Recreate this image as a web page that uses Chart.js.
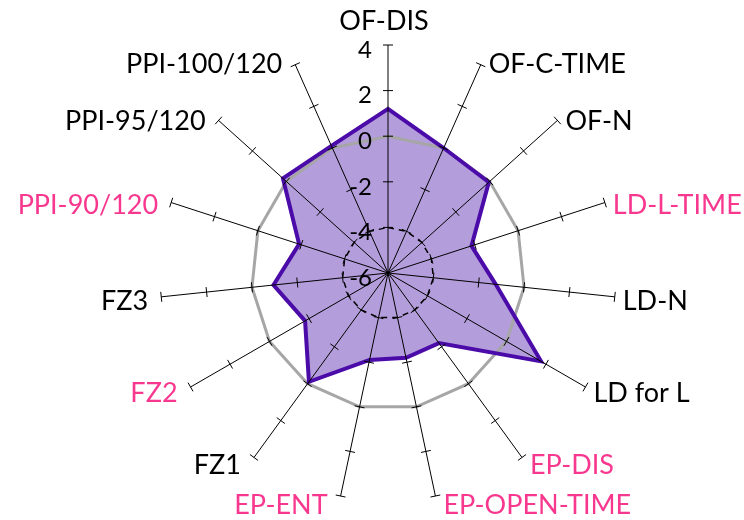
<!DOCTYPE html>
<html>
<head>
<meta charset="utf-8">
<script src="https://cdn.jsdelivr.net/npm/chart.js@4.4.0/dist/chart.umd.min.js"></script>
<style>
  html, body { margin: 0; padding: 0; background: #fff; }
  #wrap { width: 744px; height: 520px; }
</style>
</head>
<body>
<div id="wrap"><canvas id="radar" width="744" height="520"></canvas></div>
<script>
// categories, clockwise from the top
const categories = ["OF-DIS", "OF-C-TIME", "OF-N", "LD-L-TIME", "LD-N", "LD for L", "EP-DIS",
  "EP-OPEN-TIME", "EP-ENT", "FZ1", "FZ2", "FZ3", "PPI-90/120", "PPI-95/120", "PPI-100/120"];
// categories whose label is shown in pink
const highlighted = ["LD-L-TIME", "EP-DIS", "EP-OPEN-TIME", "EP-ENT", "FZ2", "PPI-90/120"];

const scores = [1.2, 0.0, -0.05, -2.15, -1.25, 1.75, -2.2, -2.2, -2.1, -0.1, -1.8, -0.95, -1.9, 0.2, 0.1];
const zeroRing = [0, 0, 0, 0, 0, 0, 0, 0, 0, 0, 0, 0, 0, 0, 0];
const lowRing = [-4, -4, -4, -4, -4, -4, -4, -4, -4, -4, -4, -4, -4, -4, -4];

const tickValues = [4, 2, 0, -2, -4, -6];

const PINK = "#F8388F";
const LABEL_FONT = "27px Lato";
const TICK_FONT = "24px Lato";

// tick marks, value labels and category labels
const radarDecor = {
  id: "radarDecor",
  afterDraw(chart) {
    const r = chart.scales.r;
    const ctx = chart.ctx;
    ctx.save();

    ctx.strokeStyle = "#000";
    ctx.lineWidth = 1;
    categories.forEach((c, i) => {
      tickValues.forEach(v => {
        if (v === r.min) return;
        const p = r.getPointPosition(i, r.getDistanceFromCenterForValue(v));
        const nx = -Math.sin(p.angle), ny = Math.cos(p.angle);
        ctx.beginPath();
        ctx.moveTo(p.x + nx * 5, p.y + ny * 5);
        ctx.lineTo(p.x - nx * 5, p.y - ny * 5);
        ctx.stroke();
      });
    });

    ctx.fillStyle = "#000";
    ctx.font = TICK_FONT;
    ctx.textAlign = "right";
    ctx.textBaseline = "middle";
    tickValues.forEach(v => {
      const d = r.getDistanceFromCenterForValue(v);
      ctx.fillText(String(v), r.xCenter - 16, r.yCenter - d + 5);
    });

    ctx.font = LABEL_FONT;
    categories.forEach((c, i) => {
      const a = r.getIndexAngle(i);
      const s = Math.sin(a), co = Math.cos(a);
      const end = r.getPointPosition(i, r.drawingArea);
      ctx.fillStyle = highlighted.includes(c) ? PINK : "#000";
      if (Math.abs(s) < 0.05) {
        ctx.textAlign = "center";
        ctx.textBaseline = "bottom";
        ctx.fillText(c, end.x - 4, end.y - 10);
        return;
      }
      ctx.textAlign = s > 0 ? "left" : "right";
      ctx.textBaseline = "middle";
      const x = s > 0 ? end.x + 8 : end.x - 13;
      ctx.fillText(c, x, end.y + 4 - 5 * co);
    });
    ctx.restore();
  }
};

new Chart(document.getElementById("radar"), {
  type: "radar",
  data: {
    labels: categories,
    datasets: [
      { data: scores, backgroundColor: "#B39DDB", borderWidth: 0, fill: "start", order: 4 },
      { data: zeroRing, borderColor: "#A6A6A6", borderWidth: 3, fill: false, order: 3 },
      { data: lowRing, borderColor: "#000", borderWidth: 1.5, borderDash: [6, 5], fill: false, order: 2 },
      { data: scores, borderColor: "#4B0BA8", borderWidth: 4, fill: false, order: 1 }
    ]
  },
  options: {
    responsive: false,
    animation: false,
    devicePixelRatio: 1,
    layout: { padding: { left: 160, right: 128, top: 45, bottom: 19 } },
    elements: {
      point: { radius: 0, hoverRadius: 0 },
      line: { tension: 0, borderJoinStyle: "miter" }
    },
    plugins: {
      legend: { display: false },
      tooltip: { enabled: false }
    },
    scales: {
      r: {
        min: -6,
        max: 4,
        ticks: { display: false, stepSize: 2, z: 1 },
        grid: { display: false, z: 1 },
        angleLines: { display: true, color: "#000", lineWidth: 1 },
        pointLabels: { display: false }
      }
    }
  },
  plugins: [radarDecor]
});
</script>
</body>
</html>
